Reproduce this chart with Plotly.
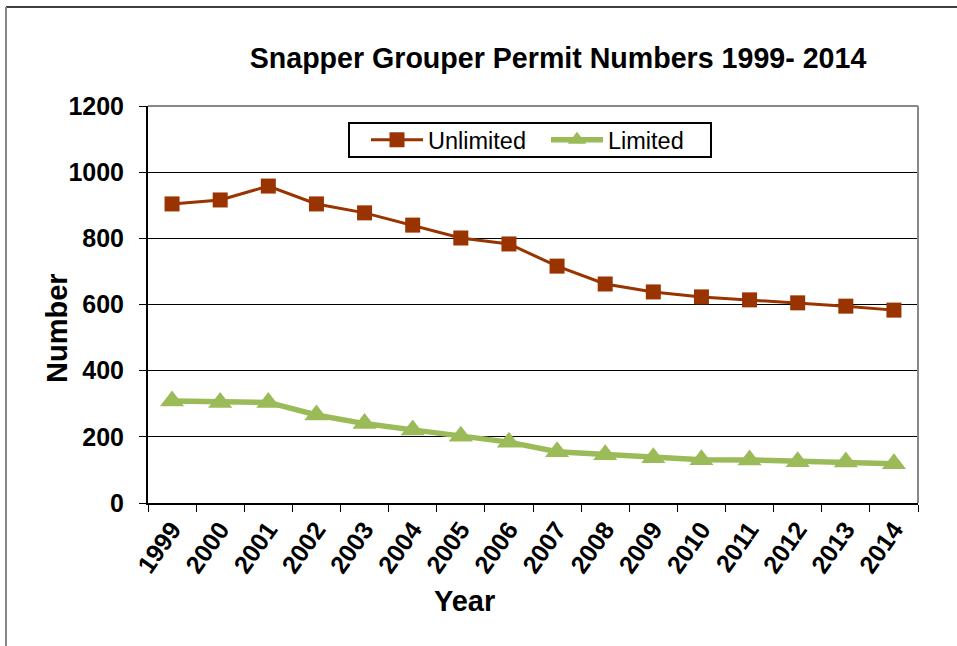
import plotly.graph_objects as go

years = [str(y) for y in range(1999, 2015)]
unlimited = [904, 916, 958, 904, 877, 840, 801, 783, 716, 662, 638, 623, 614, 605, 595, 583]
limited = [308, 304, 304, 266, 240, 221, 202, 184, 155, 146, 137, 131, 130, 125, 124, 119]

W, H = 957, 646
L, R, T, B = 148, 39, 106, 143
pw, ph = W - L - R, H - T - B

def px(x):
    return (x - L) / pw

def py(y):
    return (H - B - y) / ph

font = "Liberation Sans, Arial, sans-serif"

fig = go.Figure()
fig.add_trace(go.Scatter(
    x=years, y=unlimited, name="Unlimited", mode="lines+markers",
    line=dict(color="#993300", width=3),
    marker=dict(symbol="square", size=15, color="#993300"),
))
fig.add_trace(go.Scatter(
    x=years, y=limited, name="Limited", mode="lines+markers",
    line=dict(color="#9BBB59", width=5.5),
    marker=dict(symbol="triangle-up", size=21, color="#9BBB59"),
))

fig.update_layout(
    width=W, height=H,
    margin=dict(l=L, r=R, t=T, b=B, autoexpand=False),
    paper_bgcolor="white", plot_bgcolor="white",
    font=dict(family=font, color="black"),
    showlegend=True,
    legend=dict(
        orientation="h", x=px(366), y=py(140), xanchor="left", yanchor="middle",
        borderwidth=0, bgcolor="rgba(255,255,255,0)",
        font=dict(size=23.5, family=font), itemwidth=52, entrywidth=113,
    ),
    title=dict(
        text="<b>Snapper Grouper Permit Numbers 1999- 2014</b>",
        x=px(558), xanchor="center", xref="paper",
        y=1 - 58 / H, yanchor="middle",
        font=dict(size=28.6, family=font),
    ),
    xaxis=dict(
        type="category", tickson="boundaries", range=[-0.5, 15.5],
        showline=True, linecolor="black", linewidth=2,
        ticks="outside", ticklen=7, tickcolor="black", tickwidth=1,
        tickangle=-55, tickfont=dict(size=25, family=font, weight="bold"),
        showgrid=False, mirror=False, automargin=False,
    ),
    yaxis=dict(
        range=[0, 1200], dtick=200, tick0=0,
        showline=True, linecolor="black", linewidth=2,
        ticks="outside", ticklen=7, tickcolor="black",
        ticklabelstandoff=10,
        tickfont=dict(size=25, family=font, weight="bold"),
        showgrid=True, gridcolor="black", gridwidth=1,
        zeroline=False, automargin=False,
    ),
    annotations=[
        dict(text="<b>Number</b>", x=px(57), y=py(328), xref="paper", yref="paper",
             textangle=-90, showarrow=False, font=dict(size=29, family=font),
             xanchor="center", yanchor="middle"),
        dict(text="<b>Year</b>", x=px(464), y=py(601), xref="paper", yref="paper",
             showarrow=False, font=dict(size=29, family=font),
             xanchor="center", yanchor="middle"),
    ],
    shapes=[
        dict(type="line", xref="paper", yref="paper", x0=0, x1=1, y0=1, y1=1,
             line=dict(color="#888888", width=2)),
        dict(type="line", xref="paper", yref="paper", x0=1, x1=1, y0=0, y1=1,
             line=dict(color="#888888", width=2)),
        dict(type="line", xref="paper", yref="paper", x0=px(6), x1=px(957), y0=py(7), y1=py(7),
             line=dict(color="black", width=1.5)),
        dict(type="line", xref="paper", yref="paper", x0=px(6), x1=px(6), y0=py(7), y1=py(646),
             line=dict(color="#888888", width=2)),
        # legend box
        dict(type="rect", xref="paper", yref="paper", x0=px(349), x1=px(711), y0=py(123), y1=py(157),
             line=dict(color="black", width=2), fillcolor="white", layer="below"),
    ],
)

fig.write_html("out.html", config={"displayModeBar": False},
               post_script="document.body.style.margin='0';document.body.style.overflow='hidden';")
